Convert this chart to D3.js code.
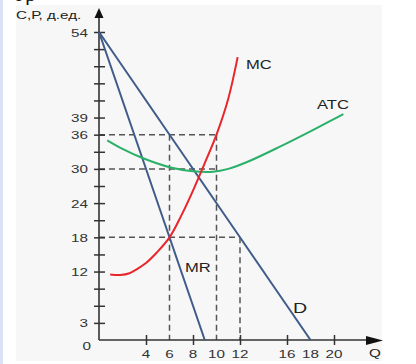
<!DOCTYPE html>
<html><head><meta charset="utf-8">
<script src="https://cdn.jsdelivr.net/npm/d3@7"></script>
<style>html,body{margin:0;padding:0;background:#fff;}svg{display:block;}</style>
</head><body>
<script>
// ---- data ----
const yTickValues = [3,6,9,12,15,18,21,24,27,30,33,36,39,42,45,48,51,54];
const yTickLabels = [3,12,18,24,30,36,39,54];
const xTickValues = [4,8,12,16,20];
const xTickLabels = [4,6,8,10,12,16,18,20];
const demandQ = [0, 18];
const demandP = [54, 0];
const mrQ = [0, 9];
const mrP = [54, 0];
const mcQ = [0.95, 1.8, 2.6, 3.2, 4.0, 4.9, 6.0, 7.0, 8.0, 9.0, 10.0, 11.0, 11.8];
const mcP = [11.5, 11.4, 11.7, 12.4, 13.5, 15.3, 18.0, 21.8, 26.2, 31.0, 36.0, 42.3, 49.6];
const atcQ = [0.7, 2.0, 3.7, 6.0, 8.0, 9.7, 11.0, 12.6, 15.4, 18.2, 20.8];
const atcP = [35.0, 33.5, 31.9, 30.3, 29.6, 29.5, 30.0, 31.2, 33.9, 36.8, 39.6];
// dashed guides: [q1,p1,q2,p2]
const guides = [[0,36,10,36],[0,30,10,30],[0,18,12,18],[6,36,6,0],[10,36,10,0],[12,18,12,0]];
const curveLabels = [["MC",246,69,12],["ATC",317,109,12],["MR",185,272,12],["D",293,313,14]];

const W = 416, H = 364;
const svg = d3.select("body").append("svg").attr("width", W).attr("height", H);
const SX = 1.45;
const font = "'Liberation Sans', Arial, sans-serif";

// background
svg.append("rect").attr("x",0).attr("y",0).attr("width",W).attr("height",H).attr("fill","#fff");
svg.append("rect").attr("x",0).attr("y",0).attr("width",3).attr("height",H).attr("fill","#dbe2f6");
svg.append("rect").attr("x",16).attr("y",5).attr("width",366).attr("height",356).attr("fill","#f7f7f7");
// cut-off heading
svg.append("clipPath").attr("id","topclip").append("rect").attr("x",0).attr("y",0).attr("width",W).attr("height",5);
svg.append("text").attr("clip-path","url(#topclip)").attr("x",16).attr("y",1)
  .attr("font-family","'Liberation Serif', serif").attr("font-size",22).attr("fill","#111").text("гр");

const x = d3.scaleLinear().domain([0,20]).range([99,334]);
const y = d3.scaleLinear().domain([0,54]).range([340,32]);

// dashed guides
svg.append("g").selectAll("line").data(guides).join("line")
  .attr("x1",d=>x(d[0])).attr("y1",d=>y(d[1])).attr("x2",d=>x(d[2])).attr("y2",d=>y(d[3]))
  .attr("stroke","#555").attr("stroke-width",1.5).attr("stroke-dasharray","6,4");

// axes
const yAxis = d3.axisLeft(y).tickValues(yTickValues).tickSize(0)
  .tickFormat(d=>yTickLabels.includes(d)?d:"");
const gy = svg.append("g").attr("transform","translate(99,0)").call(yAxis);
gy.select(".domain").remove();
gy.selectAll(".tick line").attr("x1",-5).attr("x2",6).attr("stroke","#333").attr("stroke-width",1.5);
gy.selectAll(".tick text").attr("x",0).attr("dy",null).attr("y",0)
  .attr("transform",`translate(-11,4) scale(${SX},1)`)
  .attr("font-family",font).attr("font-size",10.5).attr("fill","#333").attr("text-anchor","end");

const xAxis = d3.axisBottom(x).tickValues(xTickValues).tickSize(0).tickFormat("");
const gx = svg.append("g").attr("transform","translate(0,340)").call(xAxis);
gx.select(".domain").remove();
gx.selectAll(".tick line").attr("y1",-5).attr("y2",5).attr("stroke","#333").attr("stroke-width",1.5);

svg.append("g").selectAll("text").data(xTickLabels).join("text")
  .attr("transform",d=>`translate(${x(d)},358) scale(${SX},1)`)
  .attr("text-anchor","middle").attr("font-family",font).attr("font-size",10.5).attr("fill","#333")
  .text(d=>d);
svg.append("text").attr("transform",`translate(91,350) scale(${SX},1)`).attr("text-anchor","end")
  .attr("font-family",font).attr("font-size",10.5).attr("fill","#333").text("0");

// axis lines and arrows
svg.append("line").attr("x1",99).attr("y1",340).attr("x2",99).attr("y2",14).attr("stroke","#333").attr("stroke-width",1.6);
svg.append("line").attr("x1",99).attr("y1",340).attr("x2",372).attr("y2",340).attr("stroke","#333").attr("stroke-width",1.6);
svg.append("path").attr("d","M99,8 L94.5,18 L103.5,18 Z").attr("fill","#111");
svg.append("path").attr("d","M383,340.5 L366,336 L366,345 Z").attr("fill","#111");

// axis titles
svg.append("text").attr("transform",`translate(16,19) scale(${SX},1)`)
  .attr("font-family",font).attr("font-size",10.5).attr("fill","#222").text("С,Р, д.ед.");
svg.append("text").attr("transform",`translate(375,357) scale(${SX},1)`).attr("text-anchor","middle")
  .attr("font-family",font).attr("font-size",10.5).attr("fill","#222").text("Q");

// curves
const line = d3.line().x(d=>x(d[0])).y(d=>y(d[1]));
const smooth = d3.line().x(d=>x(d[0])).y(d=>y(d[1])).curve(d3.curveCatmullRom.alpha(0.5));
const blue = "#3f5b8a";
svg.append("path").attr("d",line(d3.zip(demandQ,demandP))).attr("fill","none").attr("stroke",blue).attr("stroke-width",2);
svg.append("path").attr("d",line(d3.zip(mrQ,mrP))).attr("fill","none").attr("stroke",blue).attr("stroke-width",2);
svg.append("path").attr("d",smooth(d3.zip(atcQ,atcP))).attr("fill","none").attr("stroke","#2bb06a").attr("stroke-width",2);
svg.append("path").attr("d",smooth(d3.zip(mcQ,mcP))).attr("fill","none").attr("stroke","#e8262b").attr("stroke-width",2);

// curve labels
svg.append("g").selectAll("text").data(curveLabels).join("text")
  .attr("transform",d=>`translate(${d[1]},${d[2]}) scale(${d[0]==="D"?1.4:1.38},1)`)
  .attr("font-family",font).attr("font-size",d=>d[3]).attr("fill","#222").text(d=>d[0]);
</script>
</body></html>
